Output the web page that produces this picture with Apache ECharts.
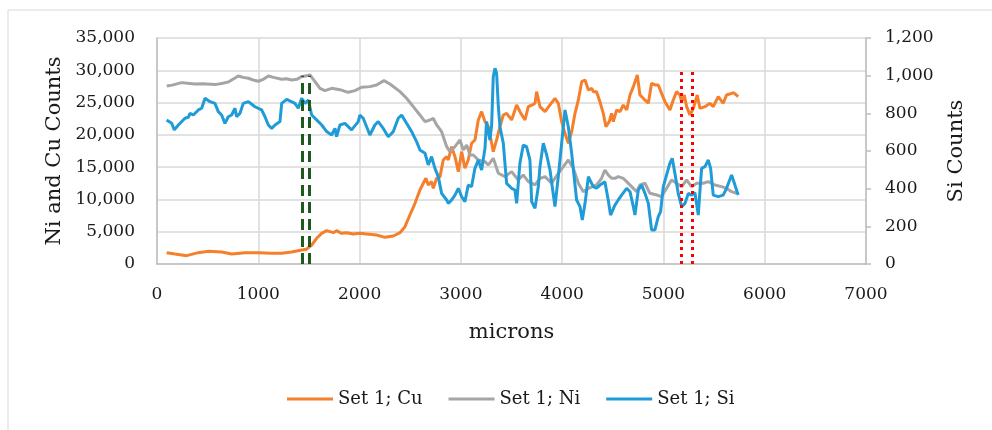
<!DOCTYPE html>
<html>
<head>
<meta charset="utf-8">
<script src="https://cdn.jsdelivr.net/npm/echarts@6/dist/echarts.min.js"></script>
<style>
  html, body { margin: 0; padding: 0; background: #fff; }
  #chart { width: 992px; height: 430px; }
</style>
</head>
<body>
<div id="chart"></div>
<script>
// [micron, counts] pairs
const cuData = [
  [95, 1755], [178, 1549], [293, 1290], [408, 1755], [507, 1962], [638, 1859], [737, 1549],
  [869, 1755], [1000, 1755], [1132, 1652], [1231, 1652], [1329, 1859], [1428, 2169],
  [1477, 2300], [1527, 2940], [1576, 3980], [1626, 4750], [1675, 5160], [1740, 4850],
  [1773, 5160], [1822, 4750], [1872, 4850], [1937, 4650], [2003, 4750], [2069, 4650],
  [2168, 4490], [2250, 4130], [2333, 4340], [2399, 4850], [2448, 5780], [2497, 7590],
  [2547, 9400], [2596, 11460], [2629, 12500], [2655, 13270], [2678, 12240], [2711, 12760],
  [2728, 11720], [2761, 13270], [2794, 13530], [2826, 16110], [2859, 16630], [2876, 16110],
  [2909, 18170], [2942, 16620], [2975, 14300], [3008, 17400], [3040, 14820], [3073, 16110],
  [3106, 18690], [3139, 19210], [3172, 22310], [3205, 23590], [3238, 22050], [3271, 21270],
  [3304, 18690], [3320, 17400], [3353, 19210], [3386, 21270], [3419, 23080], [3452, 23340],
  [3501, 22310], [3551, 24630], [3583, 23590], [3633, 22310], [3666, 24370], [3705, 24630],
  [3732, 24890], [3748, 26690], [3781, 24370], [3831, 23590], [3880, 24630], [3929, 25660],
  [3962, 24890], [3995, 22050], [4028, 20240], [4061, 18690], [4094, 20490], [4127, 23340],
  [4160, 25400], [4193, 28240], [4226, 28500], [4259, 26950], [4292, 27210], [4308, 26690],
  [4340, 26690], [4373, 25140], [4406, 23340], [4432, 21270], [4465, 22050], [4488, 23340],
  [4505, 22050], [4538, 23850], [4571, 23590], [4604, 24630], [4637, 23850], [4670, 26180],
  [4703, 27470], [4742, 29280], [4768, 26180], [4801, 25660], [4851, 24890], [4883, 27990],
  [4916, 27730], [4949, 27730], [4982, 26430], [5015, 25140], [5064, 23850], [5097, 25400],
  [5130, 26690], [5163, 26180], [5180, 25140], [5206, 26180], [5229, 24370], [5262, 23080],
  [5295, 24110], [5334, 26180], [5360, 24110], [5410, 24370], [5459, 24890], [5492, 24370],
  [5541, 25920], [5590, 24890], [5623, 26180], [5673, 26430], [5695, 26520], [5738, 25920]
];

const niData = [
  [96, 27570], [150, 27700], [243, 28090], [300, 28000], [375, 27880], [450, 27900],
  [573, 27780], [650, 28000], [704, 28190], [803, 29120], [850, 28900], [902, 28760],
  [950, 28500], [1000, 28300], [1050, 28600], [1099, 29120], [1150, 28900], [1230, 28610],
  [1280, 28700], [1329, 28500], [1380, 28600], [1428, 29010], [1510, 29280], [1560, 28240],
  [1609, 27210], [1658, 26850], [1724, 27210], [1806, 27000], [1888, 26590], [1954, 26850],
  [2020, 27370], [2102, 27470], [2168, 27730], [2241, 28400], [2300, 27880], [2399, 26690],
  [2464, 25660], [2530, 24370], [2596, 23080], [2646, 22040], [2695, 22300], [2728, 22560],
  [2761, 21530], [2810, 20490], [2860, 18170], [2892, 17400], [2942, 18170], [2991, 19210],
  [3024, 17660], [3057, 18430], [3090, 16880], [3123, 16880], [3172, 16110], [3238, 15850],
  [3271, 15340], [3320, 16370], [3370, 14050], [3436, 13530], [3501, 14300], [3567, 13010],
  [3616, 13790], [3666, 12760], [3732, 12240], [3781, 13270], [3831, 13530], [3896, 12500],
  [3962, 14050], [4012, 15080], [4061, 16110], [4110, 14820], [4160, 12500], [4209, 11200],
  [4259, 11720], [4340, 12240], [4389, 13270], [4422, 14560], [4455, 13790], [4488, 13270],
  [4521, 13270], [4554, 13530], [4604, 13270], [4637, 12760], [4686, 11980], [4735, 11200],
  [4768, 12240], [4818, 12500], [4867, 10950], [4933, 10690], [4982, 10430], [5031, 11720],
  [5080, 13010], [5130, 12500], [5180, 11980], [5229, 13010], [5278, 11980], [5328, 12500],
  [5393, 12500], [5443, 12760], [5508, 12240], [5574, 11980], [5623, 11720], [5673, 11200],
  [5722, 10950]
];

const siData = [
  [95, 765], [145, 747], [171, 712], [211, 738], [276, 774], [309, 779], [326, 800], [359, 791],
  [408, 818], [441, 827], [474, 880], [523, 862], [572, 853], [605, 809], [638, 791], [671, 747],
  [704, 782], [737, 791], [770, 827], [786, 782], [819, 800], [852, 853], [902, 862], [967, 835],
  [1033, 818], [1066, 782], [1099, 738], [1132, 720], [1165, 738], [1214, 756], [1231, 853],
  [1280, 874], [1362, 853], [1395, 827], [1428, 880], [1461, 853], [1494, 871], [1527, 791],
  [1576, 765], [1626, 738], [1675, 703], [1724, 685], [1757, 720], [1773, 676], [1806, 738],
  [1855, 747], [1921, 712], [1987, 756], [2003, 791], [2036, 774], [2102, 685], [2151, 738],
  [2184, 756], [2234, 720], [2283, 676], [2333, 703], [2382, 774], [2415, 791], [2464, 747],
  [2514, 703], [2563, 650], [2596, 605], [2646, 588], [2678, 526], [2711, 570], [2744, 508],
  [2777, 464], [2810, 375], [2860, 340], [2876, 322], [2909, 340], [2942, 366], [2975, 402],
  [3008, 357], [3040, 331], [3073, 419], [3106, 411], [3139, 508], [3172, 552], [3205, 499],
  [3238, 614], [3254, 756], [3287, 658], [3304, 738], [3320, 995], [3337, 1039], [3353, 1013],
  [3370, 835], [3386, 729], [3419, 641], [3452, 428], [3501, 402], [3534, 393], [3551, 322],
  [3583, 535], [3616, 632], [3649, 623], [3682, 552], [3699, 331], [3732, 296], [3765, 411],
  [3781, 517], [3814, 641], [3847, 579], [3880, 499], [3929, 305], [3962, 464], [3995, 641],
  [4028, 818], [4061, 729], [4094, 588], [4143, 340], [4176, 305], [4199, 234], [4226, 322],
  [4259, 464], [4274, 446], [4308, 411], [4340, 402], [4373, 419], [4422, 437], [4455, 340],
  [4478, 260], [4521, 313], [4554, 340], [4587, 366], [4637, 402], [4670, 384], [4703, 304],
  [4719, 260], [4752, 393], [4785, 419], [4818, 375], [4851, 322], [4883, 181], [4916, 181],
  [4949, 251], [4972, 278], [4999, 411], [5031, 473], [5064, 535], [5087, 561], [5113, 482],
  [5146, 375], [5180, 305], [5213, 322], [5246, 375], [5278, 366], [5311, 378], [5344, 260],
  [5360, 384], [5377, 508], [5410, 517], [5443, 552], [5466, 508], [5492, 366], [5541, 358],
  [5590, 366], [5623, 402], [5673, 473], [5706, 419], [5738, 366]
];

// vertical markers: [micron, top on Si axis]
const greenMarks = [[1430, 1000], [1505, 1000]];
const redMarks = [[5175, 1035], [5280, 1035]];

const FONT = 'DejaVu Serif';
const TXT = '#1a1a1a';
const AXIS = '#bfbfbf';
const GRID = '#d9d9d9';

const chart = echarts.init(document.getElementById('chart'));

function vline(m, style) {
  return [{ coord: [m[0], 0], lineStyle: style }, { coord: [m[0], m[1]] }];
}

const markData = greenMarks.map(m => vline(m, { color: '#1e5a1e', width: 3, type: [11, 6] }))
  .concat(redMarks.map(m => vline(m, { color: '#ff0000', width: 3, type: [3, 4] })));

chart.setOption({
  backgroundColor: '#fff',
  animation: false,
  textStyle: { fontFamily: FONT },
  graphic: [{
    type: 'rect',
    shape: { x: 8, y: 10, width: 1000, height: 440 },
    style: { fill: 'none', stroke: GRID, lineWidth: 1 },
    silent: true,
    z: -1
  }],
  grid: { left: 157, right: 126, top: 38, bottom: 166 },
  legend: {
    left: 287,
    top: 390,
    padding: 0,
    icon: 'rect',
    itemWidth: 46,
    itemHeight: 3,
    itemGap: 26,
    textStyle: { fontFamily: FONT, fontSize: 18, color: TXT },
    data: ['Set 1; Cu', 'Set 1; Ni', 'Set 1; Si']
  },
  xAxis: {
    type: 'value',
    min: 0, max: 7000, interval: 1000,
    name: 'microns',
    nameLocation: 'middle',
    nameGap: 58,
    nameTextStyle: { fontFamily: FONT, fontSize: 21, color: TXT },
    axisLine: { lineStyle: { color: AXIS, width: 1.5 } },
    axisTick: { show: false },
    axisLabel: { margin: 22, fontFamily: FONT, fontSize: 17, color: TXT,
      formatter: v => String(v) },
    splitLine: { show: true, lineStyle: { color: GRID, width: 1.5 } }
  },
  yAxis: [{
    type: 'value',
    min: 0, max: 35000, interval: 5000,
    name: 'Ni and Cu Counts',
    nameLocation: 'middle',
    nameGap: 86,
    nameTextStyle: { fontFamily: FONT, fontSize: 21, color: TXT },
    axisLine: { show: true, lineStyle: { color: AXIS, width: 1.5 } },
    axisTick: { show: false },
    axisLabel: { margin: 22, fontFamily: FONT, fontSize: 17, color: TXT,
      formatter: v => v.toLocaleString('en-US') },
    splitLine: { show: true, lineStyle: { color: GRID, width: 1.5 } }
  }, {
    type: 'value',
    min: 0, max: 1200, interval: 200,
    name: 'Si Counts',
    nameLocation: 'middle',
    nameGap: 80,
    nameTextStyle: { fontFamily: FONT, fontSize: 21, color: TXT },
    axisLine: { show: true, lineStyle: { color: AXIS, width: 1.5 } },
    axisTick: { show: true, length: 5, lineStyle: { color: AXIS, width: 1.5 } },
    axisLabel: { margin: 19, fontFamily: FONT, fontSize: 17, color: TXT,
      formatter: v => v.toLocaleString('en-US') },
    splitLine: { show: false }
  }],
  series: [{
    name: 'Set 1; Cu',
    type: 'line',
    yAxisIndex: 0,
    showSymbol: false,
    data: cuData,
    itemStyle: { color: '#f57f2a' },
    lineStyle: { color: '#f57f2a', width: 3 }
  }, {
    name: 'Set 1; Ni',
    type: 'line',
    yAxisIndex: 0,
    showSymbol: false,
    data: niData,
    itemStyle: { color: '#a5a5a5' },
    lineStyle: { color: '#a5a5a5', width: 3 }
  }, {
    name: 'Set 1; Si',
    type: 'line',
    yAxisIndex: 1,
    showSymbol: false,
    data: siData,
    itemStyle: { color: '#1f9bd7' },
    lineStyle: { color: '#1f9bd7', width: 3 },
    markLine: {
      silent: true,
      symbol: 'none',
      label: { show: false },
      data: markData
    }
  }]
});
</script>
</body>
</html>
